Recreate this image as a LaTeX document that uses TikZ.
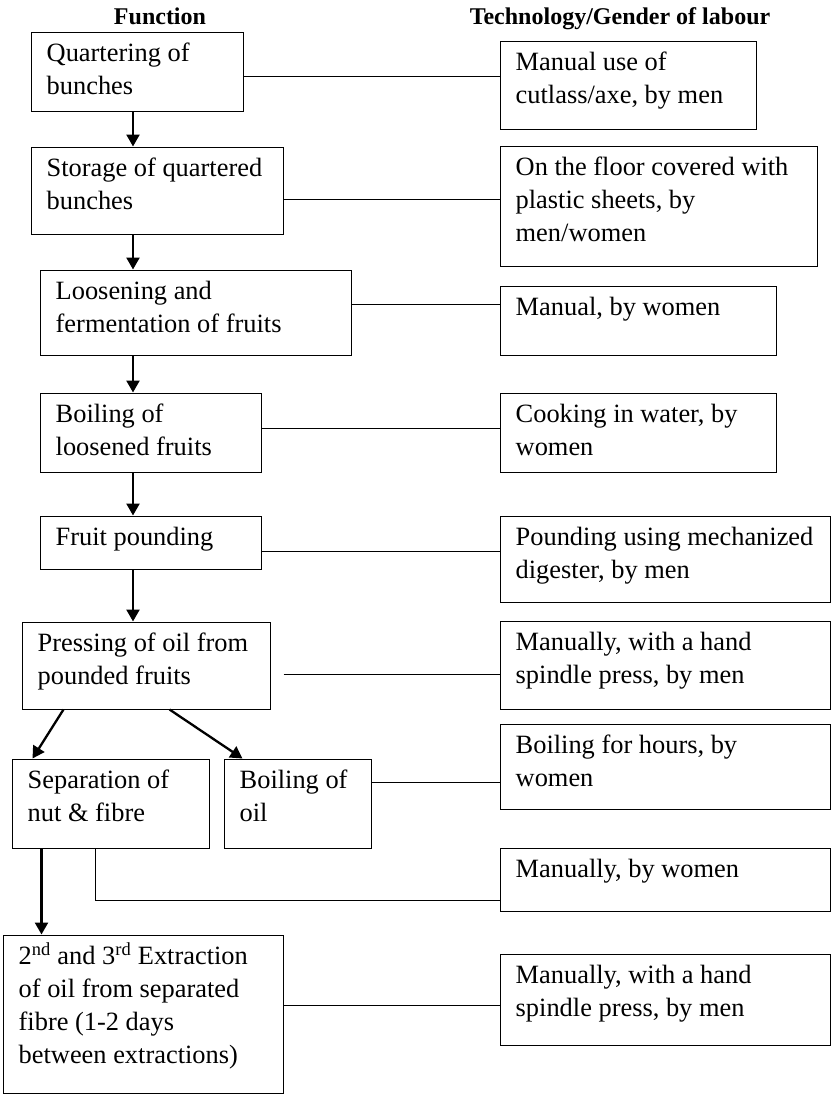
\documentclass[tikz,border=0pt]{standalone}
\usepackage{fontspec}
\setmainfont{Liberation Serif}
\usetikzlibrary{arrows.meta,fit}

\tikzset{
  box/.style={draw, line width=1bp, inner sep=0pt},
  txt/.style={anchor=north west, inner sep=0pt, align=left,
              font=\fontsize{26.4bp}{33bp}\selectfont},
  head/.style={anchor=base, inner sep=0pt,
               font=\fontsize{24bp}{28bp}\selectfont\bfseries},
  link/.style={draw, line width=1bp},
  flow/.style={draw, line width=2.3bp,
               -{Triangle[length=12bp,width=13bp]}},
}

% \procbox{name}{left}{top}{right}{bottom}{text}
\newcommand\procbox[6]{%
  \node[box, fit={(#2,#3) (#4,#5)}] (#1) {};
  \node[txt] (#1-t) at ([shift={(16bp,-5bp)}]#1.north west)
    {\rule{0pt}{25bp}#6};
}

\begin{document}
\begin{tikzpicture}[x=1bp, y=-1bp]
\useasboundingbox (0,0) rectangle (831,1094);

% column headings
\node[head] (hf) at (160,24) {Function};
\node[head] (ht) at (620,24) {Technology/Gender of labour};

% function column
\procbox{B1}{31}{32}{243}{111}{Quartering of\\bunches}
\procbox{B2}{31}{147}{283}{234}{Storage of quartered\\bunches}
\procbox{B3}{40}{270}{351}{355}{Loosening and\\fermentation of fruits}
\procbox{B4}{40}{393}{261}{472}{Boiling of\\loosened fruits}
\procbox{B5}{40}{516}{261}{569}{Fruit pounding}
\procbox{B6}{22}{622}{270}{709}{Pressing of oil from\\pounded fruits}
\procbox{B7}{12}{759}{209}{848}{Separation of\\nut \& fibre}
\procbox{B8}{224}{759}{371}{848}{Boiling of\\oil}
\procbox{B9}{3}{935}{283}{1093}{2\textsuperscript{nd} and 3\textsuperscript{rd} Extraction\\of oil from separated\\fibre (1-2 days\\between extractions)}

% technology / labour column
\procbox{R1}{500}{41}{756}{129}{Manual use of\\cutlass/axe, by men}
\procbox{R2}{500}{146}{817}{266}{On the floor covered with\\plastic sheets, by\\men/women}
\procbox{R3}{500}{286}{776}{355}{Manual, by women}
\procbox{R4}{500}{393}{776}{472}{Cooking in water, by\\women}
\procbox{R5}{500}{516}{830.5}{602}{Pounding using mechanized\\digester, by men}
\procbox{R6}{500}{621}{830.5}{709}{Manually, with a hand\\spindle press, by men}
\procbox{R7}{500}{724}{830.5}{809}{Boiling for hours, by\\women}
\procbox{R8}{500}{848}{830.5}{911}{Manually, by women}
\procbox{R9}{500}{954}{830.5}{1045}{Manually, with a hand\\spindle press, by men}

% main process flow
\coordinate (spine) at (133,0);
\draw[flow] (B1.south -| spine) -- (B2.north -| spine);
\draw[flow] (B2.south -| spine) -- (B3.north -| spine);
\draw[flow] (B3.south -| spine) -- (B4.north -| spine);
\draw[flow] (B4.south -| spine) -- (B5.north -| spine);
\draw[flow] (B5.south -| spine) -- (B6.north -| spine);
\draw[flow] ([xshift=42bp]B6.south west) -- ([xshift=21bp]B7.north west);
\draw[flow] ([xshift=148bp]B6.south west) -- ([xshift=19bp]B8.north west);
\draw[flow] ([xshift=30bp]B7.south west) coordinate (s9) -- (s9 |- B9.north);

% links from each function to its technology
\draw[link] ([yshift=-4.5bp]B1.east) coordinate (c1) -- (c1 -| R1.west);
\draw[link] ([yshift=-8.5bp]B2.east) coordinate (c2) -- (c2 -| R2.west);
\draw[link] ([yshift=8.5bp]B3.east) coordinate (c3) -- (c3 -| R3.west);
\draw[link] ([yshift=4.5bp]B4.east) coordinate (c4) -- (c4 -| R4.west);
\draw[link] ([yshift=-8.5bp]B5.east) coordinate (c5) -- (c5 -| R5.west);
\draw[link] ([shift={(13bp,-8.5bp)}]B6.east) coordinate (c6) -- (c6 -| R6.west);
\draw[link] ([yshift=21.5bp]B8.east) coordinate (c8) -- (c8 -| R7.west);
\draw[link] ([xshift=84bp]B7.south west) |- ([yshift=-20.5bp]R8.west);
\draw[link] ([yshift=9bp]B9.east) coordinate (c9) -- (c9 -| R9.west);
\end{tikzpicture}
\end{document}
